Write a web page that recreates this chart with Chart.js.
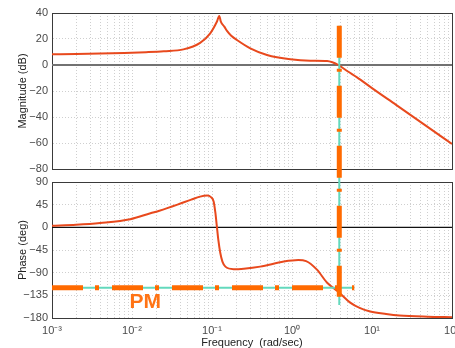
<!DOCTYPE html>
<html><head><meta charset="utf-8">
<script src="https://cdn.jsdelivr.net/npm/chart.js@4/dist/chart.umd.min.js"></script>
<style>
html,body{margin:0;padding:0;background:#fff;}
#wrap{position:relative;width:455px;height:348px;overflow:hidden;background:#fff;}
canvas{position:absolute;left:0;top:0;}
</style></head><body>
<div id="wrap"><canvas id="mag" width="455" height="348"></canvas><canvas id="phase" width="455" height="352"></canvas></div>
<script>
// ---- data ----
const magFreq  = [0.001,0.002,0.004,0.008,0.015,0.025,0.044,0.071,0.095,0.115,0.1233,0.129,0.1426,0.154,0.174,0.205,0.301,0.487,0.953,1.69,2.75,3.2,3.8,5,6.5,10,20,50,100];
const magDb    = [8.2,8.4,8.8,9.3,9.9,10.6,12,17,24.4,33.3,37.7,33.3,29.5,26.2,22.5,19.2,12.8,7.7,4.4,3.3,3.1,2.1,0,-5,-9.5,-17.8,-30.7,-47.8,-60.8];
const phaseFreq = [0.001,0.002,0.004,0.0095,0.017,0.022,0.037,0.055,0.071,0.087,0.097,0.105,0.11,0.115,0.12,0.127,0.135,0.147,0.186,0.25,0.4,0.79,1.2,1.5,2.05,2.75,3.8,5.4,7,9.5,15,22,50,100];
const phaseDeg  = [3,5,8.5,16,28,33,45,55,61,63,60,51,30,2,-25,-51,-68,-78,-83,-82,-78,-68,-65,-67,-84,-110,-128,-150,-160,-167,-172,-175,-177.5,-178.5];
const magTicks   = [40,20,0,-20,-40,-60,-80];
const phaseTicks = [90,45,0,-45,-90,-135,-180];
const freqDecades    = [0.001,0.01,0.1,1,10,100];
const freqTickLabels = ['10\u207B\u00B3','10\u207B\u00B2','10\u207B\u00B9','10\u2070','10\u00B9','10\u00B2'];
const crossoverFreq = 3.9;            // gain crossover (0 dB)
const pmPhase       = -120;           // phase level of PM marker
const pmLineFreq    = [0.001, 6.0];   // horizontal PM marker extent
const vCyanPhase    = [400, -154];    // vertical marker extent (phase units)
const vDashPhase    = [400, -138];
const pmLabel   = 'PM';
const pmLabelAt = {x: 0.0093, y: -160};

// ---- styling ----
const FONT = "'Liberation Sans', Arial, Helvetica, sans-serif";
const GRID = '#cfcfcf';
const FRAME = '#3a3a3a';
const CURVE = '#e8491d';
const ORANGE = '#ff6a00';
const CYAN = '#63d9bd';
const pts = (xs, ys) => xs.map((v, i) => ({x: v, y: ys[i]}));
const minus = v => v < 0 ? '\u2212' + Math.abs(v) : String(v);

function xScale(showLabels) {
  return {
    type: 'logarithmic', position: 'bottom',
    min: freqDecades[0], max: freqDecades[freqDecades.length - 1],
    afterBuildTicks: s => {
      const t = [];
      freqDecades.slice(0, -1).forEach(d => { for (let k = 1; k < 10; k++) t.push({value: d * k}); });
      t.push({value: freqDecades[freqDecades.length - 1]});
      s.ticks = t;
    },
    ticks: {
      display: showLabels, autoSkip: false, maxRotation: 0, minRotation: 0, padding: 6,
      color: '#4a4a4a', font: {family: FONT, size: 11},
      callback: v => { const i = freqDecades.findIndex(d => Math.abs(d - v) / d < 1e-6); return i >= 0 ? freqTickLabels[i] : ''; }
    },
    grid: {color: GRID, lineWidth: 1, drawTicks: false},
    border: {display: true, color: FRAME, width: 1, dash: [1, 2]},
    title: {display: showLabels, text: 'Frequency  (rad/sec)', color: '#222', font: {family: FONT, size: 11}, padding: {top: 0, bottom: 2}},
    afterFit: s => { s.height = showLabels ? 34 : 0; s.paddingLeft = 0; s.paddingRight = 0; }
  };
}
function yScale(min, max, ticksArr, title) {
  return {
    type: 'linear', position: 'left', min, max,
    afterBuildTicks: s => { s.ticks = ticksArr.map(v => ({value: v})); },
    ticks: {color: '#4a4a4a', font: {family: FONT, size: 11}, padding: 4, callback: v => minus(v)},
    grid: {color: GRID, lineWidth: 1, drawTicks: false},
    border: {display: true, color: FRAME, width: 1, dash: [1, 2]},
    title: {display: true, text: title, color: '#222', font: {family: FONT, size: 11}, padding: {top: 16, bottom: 0}},
    afterFit: s => { s.width = 52; }
  };
}
function frameScales(min, max) {
  return {
    x2: {type: 'logarithmic', position: 'top', min: freqDecades[0], max: freqDecades[freqDecades.length - 1],
         ticks: {display: false}, grid: {display: false}, border: {display: true, color: FRAME, width: 1},
         afterFit: s => { s.height = 0; s.paddingLeft = 0; s.paddingRight = 0; }},
    y2: {type: 'linear', position: 'right', min, max,
         ticks: {display: false}, grid: {display: false}, border: {display: true, color: FRAME, width: 1},
         afterFit: s => { s.width = 0; s.paddingTop = 0; s.paddingBottom = 0; }}
  };
}
const common = {
  responsive: false, animation: false, maintainAspectRatio: false,
  plugins: {legend: {display: false}, tooltip: {enabled: false}},
  elements: {point: {radius: 0}, line: {borderCapStyle: 'butt'}}
};
const zeroLine = (color, w) => ({data: pts([freqDecades[0], freqDecades[freqDecades.length - 1]], [0, 0]),
  borderColor: color, borderWidth: w, pointRadius: 0, order: 5});

new Chart(document.getElementById('mag'), {
  type: 'line',
  data: {datasets: [
    {data: pts(magFreq, magDb), borderColor: CURVE, borderWidth: 2, pointRadius: 0, cubicInterpolationMode: 'monotone', order: 2},
    zeroLine('#727272', 2)
  ]},
  options: Object.assign({}, common, {
    layout: {padding: {top: 13, bottom: 179, left: 0, right: 3}},
    scales: Object.assign({x: xScale(false), y: yScale(-80, 40, magTicks, 'Magnitude (dB)')}, frameScales(-80, 40))
  })
});

const pmLabelPlugin = {
  id: 'pmLabel',
  afterDatasetsDraw(chart) {
    const {ctx, scales: {x, y}} = chart;
    ctx.save();
    ctx.font = 'bold 21px ' + FONT;
    ctx.fillStyle = '#ff7314';
    ctx.textAlign = 'left';
    ctx.textBaseline = 'alphabetic';
    ctx.fillText(pmLabel, x.getPixelForValue(pmLabelAt.x), y.getPixelForValue(pmLabelAt.y));
    ctx.restore();
  }
};

new Chart(document.getElementById('phase'), {
  type: 'line',
  data: {datasets: [
    {data: pts([crossoverFreq, crossoverFreq], vDashPhase), borderColor: ORANGE, borderWidth: 5, borderDash: [32, 11, 3, 14], pointRadius: 0, clip: false, order: 0},
    {data: pts(pmLineFreq, [pmPhase, pmPhase]), borderColor: ORANGE, borderWidth: 5, borderDash: [31, 12, 4, 13], pointRadius: 0, order: 0},
    {data: pts([crossoverFreq, crossoverFreq], vCyanPhase), borderColor: CYAN, borderWidth: 2, pointRadius: 0, clip: false, order: 1},
    {data: pts(pmLineFreq, [pmPhase, pmPhase]), borderColor: CYAN, borderWidth: 2, pointRadius: 0, order: 1},
    {data: pts(phaseFreq, phaseDeg), borderColor: CURVE, borderWidth: 2, pointRadius: 0, cubicInterpolationMode: 'monotone', order: 2},
    zeroLine('#111', 1.3)
  ]},
  options: Object.assign({}, common, {
    layout: {padding: {top: 182, bottom: 0, left: 0, right: 3}},
    scales: Object.assign({x: xScale(true), y: yScale(-180, 90, phaseTicks, 'Phase (deg)')}, frameScales(-180, 90))
  }),
  plugins: [pmLabelPlugin]
});
</script>
</body></html>
